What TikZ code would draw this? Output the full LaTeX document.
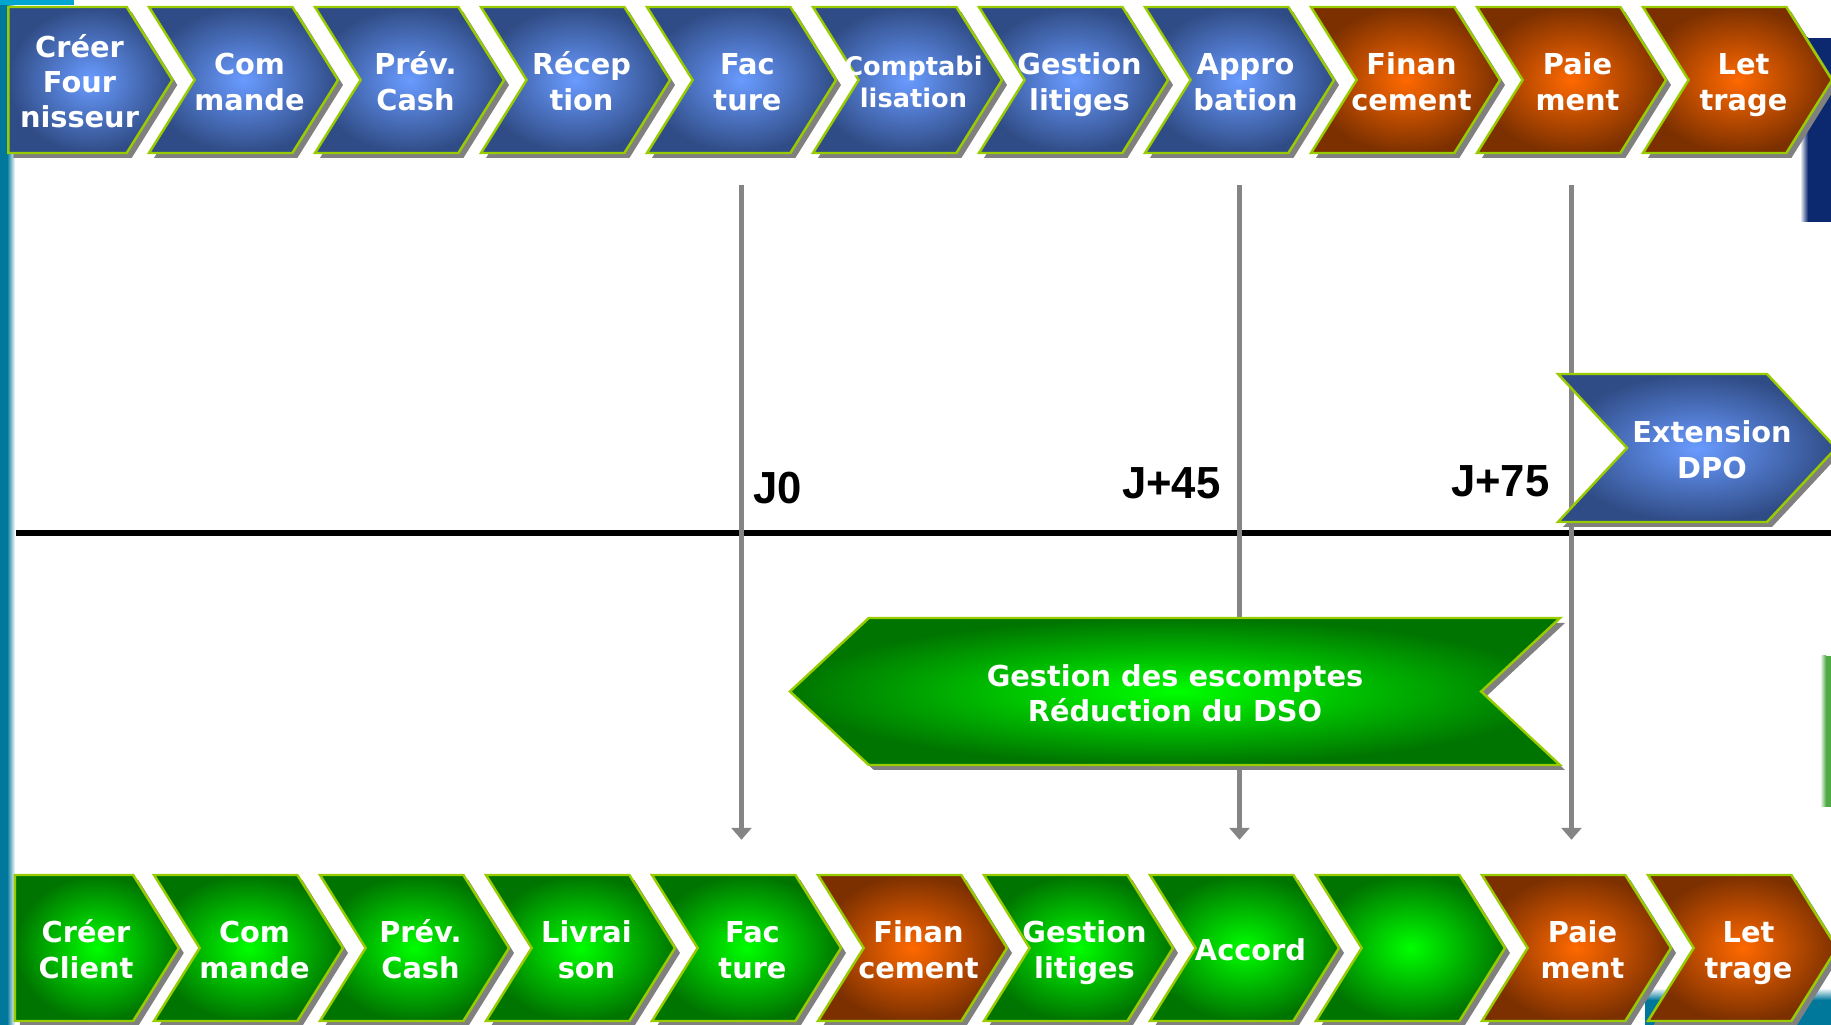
\documentclass[tikz,border=0pt]{standalone}
\usepackage{fontspec}
\setsansfont{DejaVu Sans}
\newfontfamily\jfont[FakeStretch=0.97]{Liberation Sans}
\usetikzlibrary{shapes.symbols,shadows,positioning,arrows.meta}

\definecolor{bluein}{RGB}{105,155,255}
\definecolor{blueout}{RGB}{48,76,134}
\definecolor{orangein}{RGB}{255,105,0}
\definecolor{orangeout}{RGB}{124,48,0}
\definecolor{greenin}{RGB}{0,255,0}
\definecolor{greenout}{RGB}{0,116,0}
\definecolor{rimgreen}{RGB}{153,204,0}
\definecolor{shadowgray}{RGB}{128,128,128}
\definecolor{linegray}{RGB}{133,133,133}
\definecolor{slideteal}{RGB}{0,120,155}
\definecolor{slidenavy}{RGB}{12,40,110}
\definecolor{slidegreen}{RGB}{80,170,70}
\definecolor{slidecyan}{RGB}{0,165,210}

% text block of a chevron, moved sideways by #1
\newcommand{\ctext}[2]{\raisebox{-0.55mm}[\height][\depth]{\hbox to 0pt{\hss\kern#1\kern#1\begin{tabular}{@{}c@{}}#2\end{tabular}\hss}}}

\begin{document}
\begin{tikzpicture}[x=0.1mm,y=-0.1mm,node distance=16.6mm,
    chev/.style={signal, signal to=east, signal from=west, signal pointer angle=116,
        minimum width=18.9mm, minimum height=14.6mm, inner sep=0pt,
        draw=rimgreen, line width=0.7pt, text=white,
        font=\sffamily\bfseries\fontsize{8.2}{10}\selectfont,
        drop shadow={shadow xshift=0.5mm, shadow yshift=-0.5mm, fill=shadowgray, opacity=1}},
    firstchev/.style={signal from=nowhere, minimum width=16.4mm},
    bluechev/.style={chev, inner color=bluein, outer color=blueout},
    orangechev/.style={chev, inner color=orangein, outer color=orangeout},
    greenchev/.style={chev, inner color=greenin, outer color=greenout},
    timeline/.style={draw=linegray, line width=0.55mm, -{Triangle[width=2mm,length=1.2mm]},
        shorten <=3.1mm, shorten >=3.4mm},
    jlabel/.style={font=\jfont\bfseries\fontsize{12.8}{14}\selectfont, inner sep=0pt}]

    \useasboundingbox (0,0) rectangle (1831,1025);

    % slide background
    \fill[slideteal] (0,0) rectangle (7,1025);
    \shade[left color=slideteal, right color=white] (7,0) rectangle (15,1025);
    \fill[slidecyan] (0,0) rectangle (74,5);
    \shade[left color=white, right color=slidenavy] (1800,38) rectangle (1808,222);
    \fill[slidenavy] (1808,38) rectangle (1831,222);
    \shade[left color=white, right color=slidegreen] (1820,656) rectangle (1826,807);
    \fill[slidegreen] (1826,656) rectangle (1831,807);
    \shade[top color=white, bottom color=slideteal] (1645,988) rectangle (1831,1000);
    \fill[slideteal] (1645,1000) rectangle (1831,1025);

    \coordinate (axisL) at (16,533);
    \coordinate (axisR) at (1831,533);
    \draw[line width=0.65mm] (axisL) -- (axisR);

    % fournisseur
    \node[bluechev, firstchev] (fcreer) at (67.5,80) {\ctext{1.2mm}{Créer\\Four\\nisseur}};
    \node[bluechev] (fcmd) at (243.5,80) {\ctext{0.6mm}{Com\\mande}};
    \node[bluechev, right of=fcmd] (fprev) {\ctext{0.6mm}{Prév.\\Cash}};
    \node[bluechev, right of=fprev] (frecep) {\ctext{0.6mm}{Récep\\tion}};
    \node[bluechev, right of=frecep] (ffac) {\ctext{0.6mm}{Fac\\ture}};
    \node[bluechev, right of=ffac, font=\sffamily\bfseries\fontsize{7.3}{9}\selectfont] (fcompta) {\ctext{0.6mm}{Comptabi\\lisation}};
    \node[bluechev, right of=fcompta] (fgest) {\ctext{0.6mm}{Gestion\\litiges}};
    \node[bluechev, right of=fgest] (fappro) {\ctext{0.6mm}{Appro\\bation}};
    \node[orangechev, right of=fappro] (ffinan) {\ctext{0.6mm}{Finan\\cement}};
    \node[orangechev, right of=ffinan] (fpaie) {\ctext{0.6mm}{Paie\\ment}};
    \node[orangechev, right of=fpaie] (flett) {\ctext{0.6mm}{Let\\trage}};

    % client
    \node[greenchev, firstchev] (ccreer) at (74,948) {\ctext{1.2mm}{Créer\\Client}};
    \node[greenchev] (ccmd) at (248.5,948) {\ctext{0.6mm}{Com\\mande}};
    \node[greenchev, right of=ccmd] (cprev) {\ctext{0.6mm}{Prév.\\Cash}};
    \node[greenchev, right of=cprev] (clivr) {\ctext{0.6mm}{Livrai\\son}};
    \node[greenchev, right of=clivr] (cfac) {\ctext{0.6mm}{Fac\\ture}};
    \node[orangechev, right of=cfac] (cfinan) {\ctext{0.6mm}{Finan\\cement}};
    \node[greenchev, right of=cfinan] (cgest) {\ctext{0.6mm}{Gestion\\litiges}};
    \node[greenchev, right of=cgest] (caccord) {\ctext{0.6mm}{Accord}};
    \node[greenchev, right of=caccord] (cvide) {};
    \node[orangechev, right of=cvide] (cpaie) {\ctext{0.6mm}{Paie\\ment}};
    \node[orangechev, right of=cpaie] (clett) {\ctext{0.6mm}{Let\\trage}};

    \draw[timeline] (ffac.south) -- (ffac.south |- cfac.north);
    \draw[timeline] (fappro.south) -- (fappro.south |- caccord.north);
    \draw[timeline] (fpaie.south) -- (fpaie.south |- cpaie.north);

    \node[greenchev, signal to=west, signal from=east, signal pointer angle=86,
        minimum width=77mm, minimum height=14.7mm] (escompte) at (1175,691.5)
        {\ctext{0mm}{Gestion des escomptes\\Réduction du DSO}};
    \node[bluechev, signal pointer angle=94, minimum width=27.8mm, minimum height=14.8mm]
        (dpo) at (1697,448) {\ctext{1.5mm}{Extension\\DPO}};

    \node[jlabel, anchor=base west] (j0) at (753,504) {J0};
    \node[jlabel, anchor=base east] (j45) at (1221,499) {J+45};
    \node[jlabel, anchor=base east] (j75) at (1550,497) {J+75};
\end{tikzpicture}
\end{document}
